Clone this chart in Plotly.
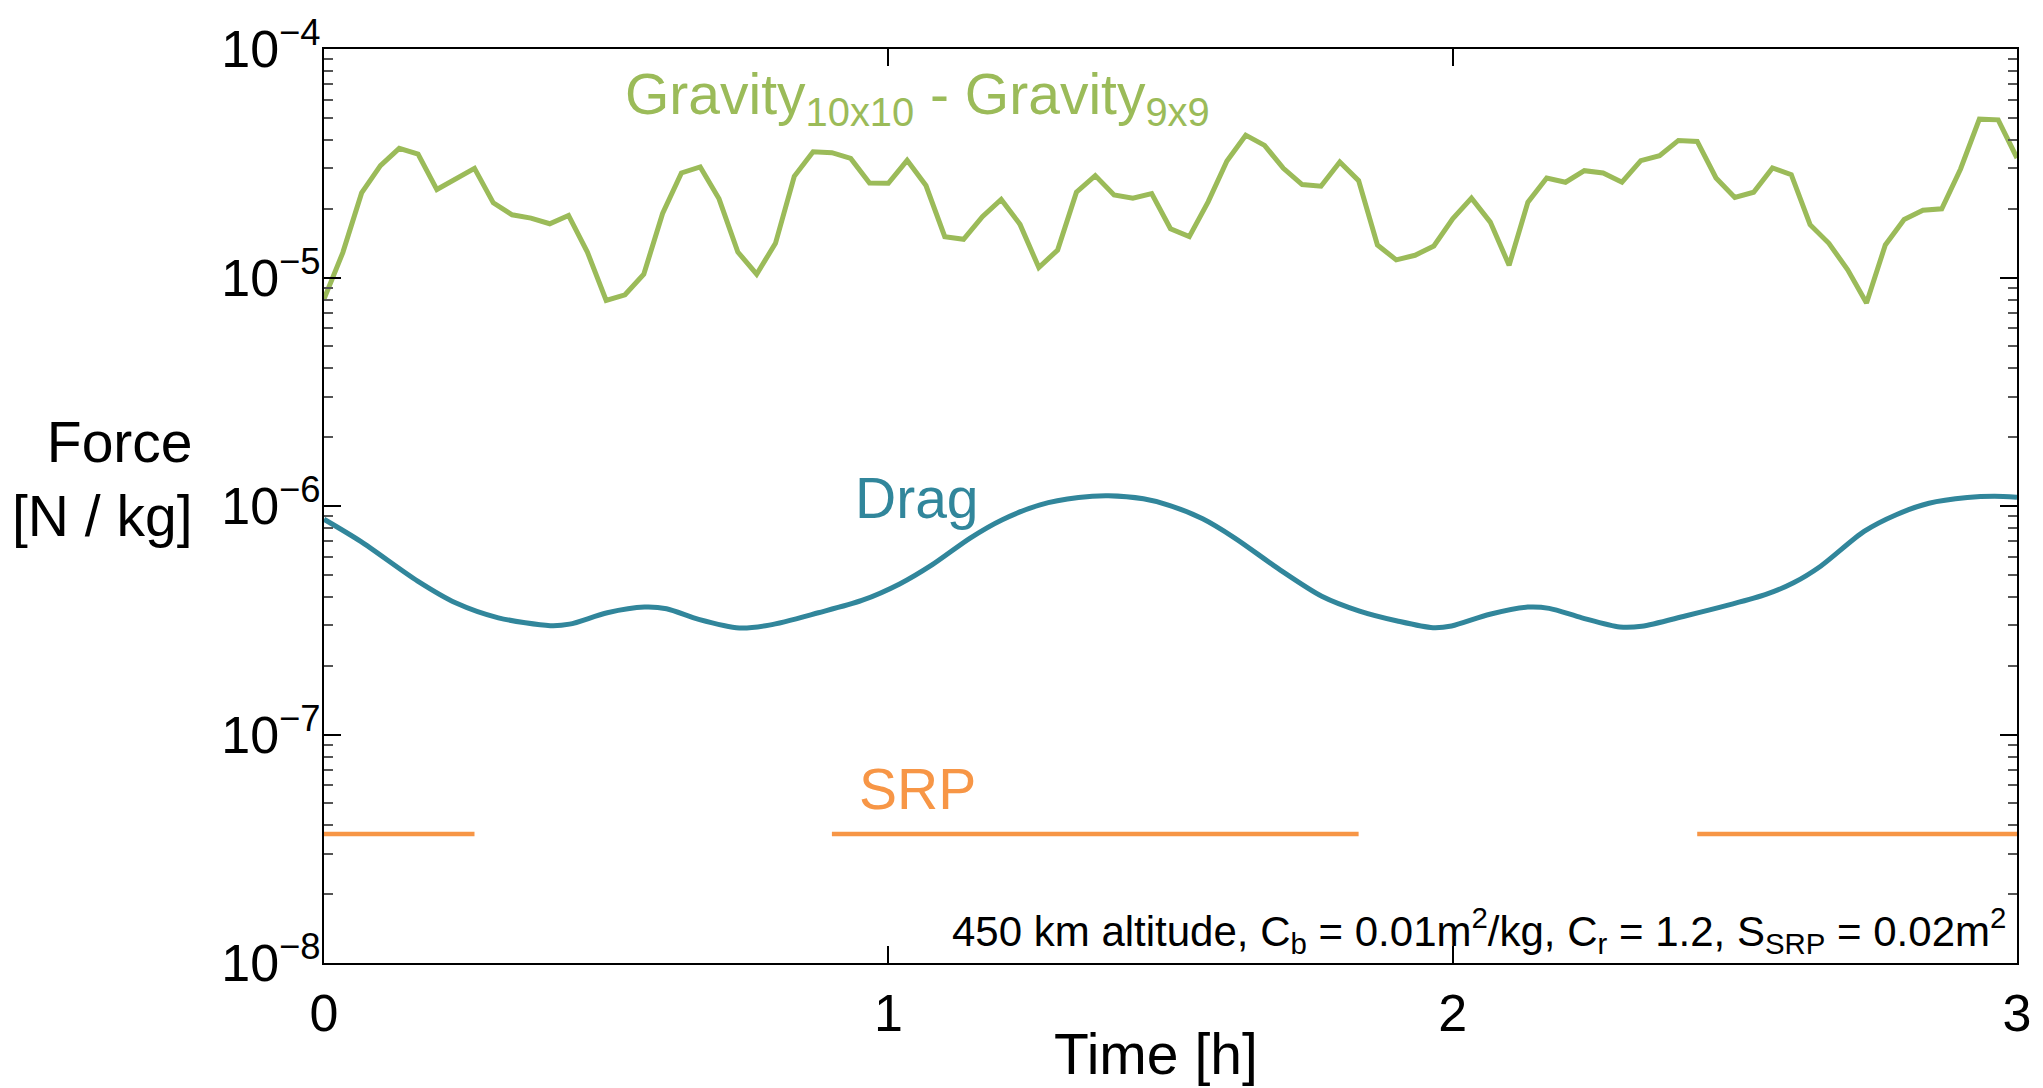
import plotly.graph_objects as go

# ---------------- data ----------------
time_h = [i / 30 for i in range(91)]

gravity = [8.04e-6, 1.285e-5, 2.346e-5, 3.087e-5, 3.673e-5, 3.469e-5, 2.426e-5, 2.700e-5, 3.005e-5, 2.122e-5,
           1.881e-5, 1.820e-5, 1.719e-5, 1.869e-5, 1.293e-5, 7.94e-6, 8.40e-6, 1.034e-5, 1.907e-5, 2.867e-5,
           3.046e-5, 2.209e-5, 1.293e-5, 1.034e-5, 1.411e-5, 2.773e-5, 3.552e-5, 3.516e-5, 3.321e-5, 2.594e-5,
           2.585e-5, 3.256e-5, 2.526e-5, 1.509e-5, 1.469e-5, 1.844e-5, 2.194e-5, 1.708e-5, 1.105e-5, 1.319e-5,
           2.362e-5, 2.792e-5, 2.299e-5, 2.224e-5, 2.330e-5, 1.635e-5, 1.509e-5, 2.144e-5, 3.235e-5, 4.197e-5,
           3.786e-5, 3.005e-5, 2.551e-5, 2.509e-5, 3.202e-5, 2.655e-5, 1.388e-5, 1.194e-5, 1.251e-5, 1.374e-5,
           1.807e-5, 2.224e-5, 1.748e-5, 1.131e-5, 2.137e-5, 2.727e-5, 2.612e-5, 2.935e-5, 2.867e-5, 2.612e-5,
           3.245e-5, 3.412e-5, 3.980e-5, 3.940e-5, 2.727e-5, 2.239e-5, 2.362e-5, 3.015e-5, 2.820e-5, 1.702e-5,
           1.411e-5, 1.080e-5, 7.73e-6, 1.388e-5, 1.795e-5, 1.971e-5, 1.998e-5, 2.985e-5, 4.930e-5, 4.897e-5,
           3.333e-5]

drag_t = [0.0, 0.065, 0.166, 0.233, 0.309, 0.401, 0.435, 0.502, 0.568, 0.607,
          0.664, 0.736, 0.789, 0.876, 0.953, 1.020, 1.078, 1.145, 1.202, 1.269,
          1.337, 1.390, 1.452, 1.499, 1.557, 1.614, 1.691, 1.768, 1.835, 1.902,
          1.965, 1.998, 2.066, 2.133, 2.171, 2.229, 2.296, 2.335, 2.412, 2.488,
          2.555, 2.604, 2.652, 2.729, 2.786, 2.844, 2.912, 2.960, 3.0]
drag = [8.75e-7, 7.00e-7, 4.69e-7, 3.77e-7, 3.24e-7, 2.995e-7, 3.04e-7, 3.41e-7, 3.61e-7, 3.55e-7,
        3.19e-7, 2.925e-7, 3.01e-7, 3.41e-7, 3.86e-7, 4.56e-7, 5.54e-7, 7.24e-7, 8.71e-7, 1.012e-6,
        1.089e-6, 1.108e-6, 1.075e-6, 1.005e-6, 8.79e-7, 7.24e-7, 5.32e-7, 4.03e-7, 3.47e-7, 3.14e-7,
        2.934e-7, 2.985e-7, 3.36e-7, 3.61e-7, 3.565e-7, 3.24e-7, 2.955e-7, 2.976e-7, 3.30e-7, 3.68e-7,
        4.10e-7, 4.61e-7, 5.45e-7, 7.74e-7, 9.16e-7, 1.028e-6, 1.089e-6, 1.103e-6, 1.092e-6]

# SRP (None = eclipse)
srp = ([3.67e-8] * 9 + [None] * 18 + [3.67e-8] * 10 + [3.68e-8] * 14 + [3.67e-8] * 5
       + [None] * 17 + [3.67e-8] * 18)

y_major = [1e-8, 1e-7, 1e-6, 1e-5, 1e-4]
y_major_text = ["10<sup>\u22128</sup>", "10<sup>\u22127</sup>", "10<sup>\u22126</sup>",
                "10<sup>\u22125</sup>", "10<sup>\u22124</sup>"]
y_minor = [m * d for d in [1e-8, 1e-7, 1e-6, 1e-5] for m in range(2, 10)]
x_ticks = [0, 1, 2, 3]

GREEN = "#9BBB59"
TEAL = "#31869B"
ORANGE = "#F79646"
FONT = "Liberation Sans, Arial, Helvetica, sans-serif"

fig = go.Figure()
fig.add_trace(go.Scatter(x=time_h, y=srp, mode="lines", line=dict(color=ORANGE, width=4.5),
                         connectgaps=False, showlegend=False))
fig.add_trace(go.Scatter(x=drag_t, y=drag, mode="lines",
                         line=dict(color=TEAL, width=5, shape="spline", smoothing=0.8),
                         showlegend=False))
fig.add_trace(go.Scatter(x=time_h, y=gravity, mode="lines", line=dict(color=GREEN, width=5),
                         showlegend=False))

W, H = 2043, 1088
L, R, T, B = 324, 26, 45, 125
PW, PH = W - L - R, H - T - B


def px(x):
    return (x - L) / PW


def py(y):
    return 1 - (y - T) / PH


fig.update_layout(
    width=W, height=H,
    margin=dict(l=L, r=R, t=T, b=B),
    paper_bgcolor="white", plot_bgcolor="white",
    font=dict(family=FONT, size=52, color="black"),
    xaxis=dict(range=[0, 3], tickvals=x_ticks, ticktext=[str(v) for v in x_ticks],
               ticks="inside", ticklen=17, tickwidth=1.5, tickcolor="black",
               showline=True, linecolor="black", linewidth=2, mirror="ticks",
               showgrid=False, zeroline=False, tickfont=dict(size=52), ticklabelstandoff=4),
    yaxis=dict(type="log", range=[-8, -4], tickmode="array", tickvals=y_major, ticktext=y_major_text,
               ticks="inside", ticklen=17, tickwidth=1.5, tickcolor="black",
               showline=True, linecolor="black", linewidth=2, mirror="ticks",
               showgrid=False, zeroline=False, tickfont=dict(size=52), ticklabelstandoff=-9,
               minor=dict(tickmode="array", tickvals=y_minor, ticks="inside", ticklen=9,
                          tickwidth=1.5, tickcolor="#555555", showgrid=False)),
    annotations=[
        dict(text="Gravity<sub>10x10</sub> - Gravity<sub>9x9</sub>", xref="paper", yref="paper",
             x=px(623), y=py(94), xanchor="left", yanchor="middle", showarrow=False,
             font=dict(size=57, color=GREEN, family=FONT)),
        dict(text="Drag", xref="paper", yref="paper", x=px(853), y=py(496), xanchor="left",
             yanchor="middle", showarrow=False, font=dict(size=57, color=TEAL, family=FONT)),
        dict(text="SRP", xref="paper", yref="paper", x=px(857), y=py(788), xanchor="left",
             yanchor="middle", showarrow=False, font=dict(size=57, color=ORANGE, family=FONT)),
        dict(text="450 km altitude, C<sub>b</sub> = 0.01m<sup>2</sup>/kg, C<sub>r</sub> = 1.2, "
                  "S<sub>SRP</sub> = 0.02m<sup>2</sup>",
             xref="paper", yref="paper", x=px(2008), y=py(930), xanchor="right", yanchor="middle",
             showarrow=False, font=dict(size=42, color="black", family=FONT)),
        dict(text="Force<br>[N / kg]", xref="paper", yref="paper", x=px(195), y=py(477),
             xanchor="right", yanchor="middle", align="right", showarrow=False,
             font=dict(size=57, color="black", family=FONT)),
        dict(text="Time [h]", xref="paper", yref="paper", x=px(1156), y=py(1054),
             xanchor="center", yanchor="middle", showarrow=False,
             font=dict(size=57, color="black", family=FONT)),
    ],
)

fig.write_html("out.html")
